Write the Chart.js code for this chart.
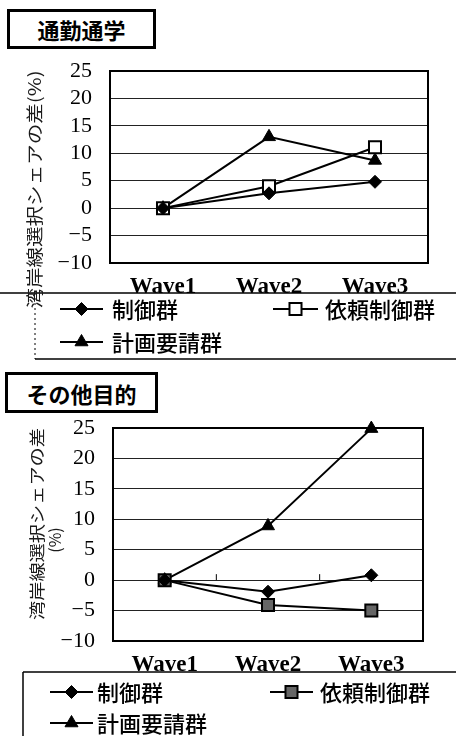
<!DOCTYPE html>
<html><head><meta charset="utf-8">
<script src="https://cdn.jsdelivr.net/npm/chart.js@4.4.0/dist/chart.umd.min.js"></script>
<style>
html,body{margin:0;padding:0;background:#fff;width:456px;height:736px;overflow:hidden;}
#page{position:relative;width:456px;height:736px;}
.tbox{position:absolute;border:3px solid #000;box-sizing:border-box;font-family:"Noto Sans CJK JP";font-weight:700;font-size:22px;display:flex;align-items:center;justify-content:center;color:#000;background:#fff;}
.ytitle{position:absolute;font-family:"Noto Sans CJK JP";white-space:nowrap;color:#1a1a1a;transform-origin:center center;line-height:1;}
canvas{position:absolute;left:0;}
</style></head>
<body><div id="page">
<canvas id="c1" width="456" height="365" style="top:0"></canvas>
<canvas id="c2" width="456" height="371" style="top:365px"></canvas>
<div class="tbox" style="left:7px;top:9px;width:149px;height:40px;">通勤通学</div>
<div class="tbox" style="left:5px;top:372px;width:153px;height:41px;">その他目的</div>
<div class="ytitle" data-cx="33" data-cy="189" data-len="238" style="font-size:17px">湾岸線選択シェアの差(%)</div>
<div class="ytitle" data-cx="36" data-cy="524" data-len="192" style="font-size:16px">湾岸線選択シェアの差</div>
<div class="ytitle" data-cx="54" data-cy="540" data-len="26" style="font-size:16px">(%)</div>
</div>
<script>
// ---- data ----
const categories = ['Wave1', 'Wave2', 'Wave3'];
const seriesNames = ['制御群', '依頼制御群', '計画要請群'];
const commuteControl = [0, 2.7, 4.8];
const commuteRequest = [0, 4.0, 11.1];
const commutePlan    = [0, 13.0, 8.7];
const otherControl   = [0, -1.9, 0.8];
const otherRequest   = [0, -4.1, -5.0];
const otherPlan      = [0, 8.9, 24.9];
const yMin = -10, yMax = 25, yStep = 5;

// ---- y titles placement ----
document.querySelectorAll('.ytitle').forEach(el => {
  const w = el.offsetWidth, h = el.offsetHeight;
  const s = (+el.dataset.len) / w;
  el.style.left = (+el.dataset.cx - w / 2) + 'px';
  el.style.top = (+el.dataset.cy - h / 2) + 'px';
  el.style.transform = 'rotate(-90deg) scaleX(' + s.toFixed(3) + ')';
});

const framePlugin = {
  id: 'frame',
  beforeDatasetsDraw(chart, args, opts) {
    const a = chart.chartArea, ctx = chart.ctx;
    ctx.save();
    ctx.strokeStyle = '#000';
    ctx.lineWidth = 2;
    ctx.strokeRect(a.left, a.top, a.right - a.left, a.bottom - a.top);
    if (opts && opts.zeroTicks) {
      const xs = chart.scales.x, ys = chart.scales.y;
      const y0 = ys.getPixelForValue(0);
      ctx.lineWidth = 1;
      for (let i = 0; i < categories.length - 1; i++) {
        const xp = (xs.getPixelForValue(i) + xs.getPixelForValue(i + 1)) / 2;
        ctx.beginPath();
        ctx.moveTo(xp, y0);
        ctx.lineTo(xp, y0 - 6);
        ctx.stroke();
      }
    }
    ctx.restore();
  }
};

const boxLegendPlugin = {
  id: 'boxLegend',
  afterDraw(chart, args, opts) {
    const ctx = chart.ctx;
    ctx.save();
    ctx.strokeStyle = '#000';
    (opts.lines || []).forEach(l => {
      ctx.lineWidth = l.w || 1.5;
      ctx.setLineDash(l.dash || []);
      ctx.beginPath();
      ctx.moveTo(l.x1, l.y1);
      ctx.lineTo(l.x2, l.y2);
      ctx.stroke();
    });
    ctx.setLineDash([]);
    (opts.items || []).forEach(it => {
      const ds = chart.data.datasets[it.ds];
      ctx.strokeStyle = ds.borderColor;
      ctx.lineWidth = ds.borderWidth;
      ctx.beginPath();
      ctx.moveTo(it.lx1, it.y);
      ctx.lineTo(it.lx2, it.y);
      ctx.stroke();
      ctx.fillStyle = ds.pointBackgroundColor;
      ctx.strokeStyle = ds.pointBorderColor;
      ctx.lineWidth = ds.pointBorderWidth;
      Chart.helpers.drawPoint(ctx, {pointStyle: ds.pointStyle, radius: ds.pointRadius, rotation: 0, borderWidth: ds.pointBorderWidth}, (it.lx1 + it.lx2) / 2, it.y);
      ctx.fillStyle = '#000';
      ctx.font = '500 22px "Noto Sans CJK JP"';
      ctx.textBaseline = 'middle';
      ctx.textAlign = 'left';
      ctx.fillText(ds.label, it.tx, it.y + 1);
    });
    ctx.restore();
  }
};

function makeDatasets(ctrl, req, plan, reqFill) {
  const base = {borderColor: '#000', borderWidth: 2, pointBorderColor: '#000', tension: 0, clip: false};
  return [
    Object.assign({}, base, {label: seriesNames[0], data: ctrl, pointStyle: 'rectRot', pointRadius: 6.5, pointBackgroundColor: '#000', pointBorderWidth: 1}),
    Object.assign({}, base, {label: seriesNames[1], data: req, pointStyle: 'rect', pointRadius: 8.5, pointBackgroundColor: reqFill, pointBorderWidth: 2}),
    Object.assign({}, base, {label: seriesNames[2], data: plan, pointStyle: 'triangle', pointRadius: 7.5, pointBackgroundColor: '#000', pointBorderWidth: 1})
  ];
}

function makeOptions(yWidth, pad, legend, zeroTicks) {
  return {
    responsive: false,
    maintainAspectRatio: false,
    animation: false,
    layout: {padding: pad},
    plugins: {legend: {display: false}, tooltip: {enabled: false}, boxLegend: legend, frame: {zeroTicks: zeroTicks}},
    scales: {
      x: {
        offset: true,
        grid: {display: false},
        border: {display: true, color: '#000', width: 2},
        ticks: {color: '#000', padding: 2, font: {family: '"Liberation Serif"', size: 23, weight: 'bold'}},
        afterFit(s) { s.height = 50; }
      },
      y: {
        min: yMin, max: yMax,
        grid: {color: '#222', lineWidth: 1, drawTicks: false},
        border: {display: true, color: '#000', width: 2},
        ticks: {stepSize: yStep, autoSkip: false, color: '#000', padding: 18,
          font: {family: '"Liberation Serif"', size: 22},
          callback: v => v < 0 ? '\u2212' + Math.abs(v) : String(v)},
        afterFit(s) { s.width = yWidth; }
      }
    }
  };
}

new Chart(document.getElementById('c1'), {
  type: 'line',
  data: {labels: categories, datasets: makeDatasets(commuteControl, commuteRequest, commutePlan, '#fff')},
  options: makeOptions(110, {left: 0, top: 71, right: 28, bottom: 52}, {
    lines: [
      {x1: 0, y1: 293, x2: 456, y2: 293},
      {x1: 35, y1: 293, x2: 35, y2: 359, dash: [2, 3], w: 1},
      {x1: 35, y1: 359, x2: 456, y2: 359}
    ],
    items: [
      {ds: 0, lx1: 60, lx2: 103, y: 309, tx: 112},
      {ds: 1, lx1: 273, lx2: 318, y: 309, tx: 325},
      {ds: 2, lx1: 60, lx2: 103, y: 342, tx: 112}
    ]
  }, false),
  plugins: [framePlugin, boxLegendPlugin]
});

new Chart(document.getElementById('c2'), {
  type: 'line',
  data: {labels: categories, datasets: makeDatasets(otherControl, otherRequest, otherPlan, '#666')},
  options: makeOptions(113, {left: 0, top: 63, right: 33, bottom: 45}, {
    lines: [
      {x1: 23, y1: 307, x2: 456, y2: 307},
      {x1: 23, y1: 307, x2: 23, y2: 371}
    ],
    items: [
      {ds: 0, lx1: 50, lx2: 93, y: 327, tx: 97},
      {ds: 1, lx1: 270, lx2: 313, y: 327, tx: 320},
      {ds: 2, lx1: 50, lx2: 93, y: 358, tx: 97}
    ]
  }, true),
  plugins: [framePlugin, boxLegendPlugin]
});
</script>
</body></html>
